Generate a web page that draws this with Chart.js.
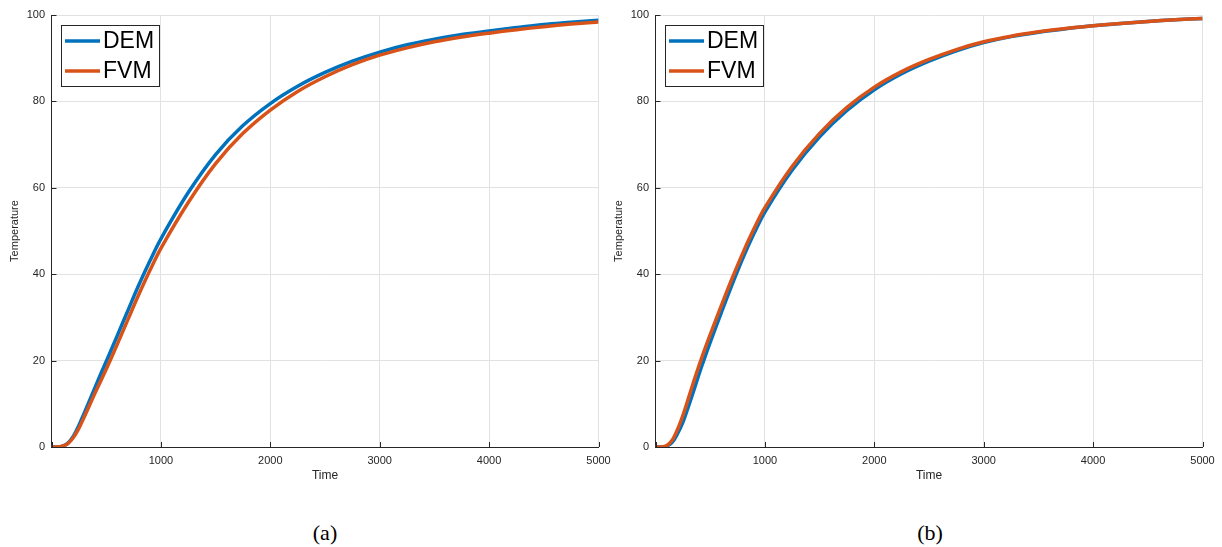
<!DOCTYPE html>
<html>
<head>
<meta charset="utf-8">
<script src="https://cdn.jsdelivr.net/npm/chart.js@4.4.0/dist/chart.umd.min.js"></script>
<style>
  body { margin: 0; background: #fff; width: 1222px; height: 547px; position: relative; overflow: hidden; }
  .panel { position: absolute; top: 0; }
  .cap { position: absolute; top: 520px; font-family: 'Liberation Serif', 'Times New Roman', serif; font-size: 22px; color: #000; transform: translateX(-50%); }
</style>
</head>
<body>
<canvas id="chartA" class="panel" style="left:0px" width="615" height="490"></canvas>
<canvas id="chartB" class="panel" style="left:604px" width="615" height="490"></canvas>
<div class="cap" style="left:325px">(a)</div>
<div class="cap" style="left:930px">(b)</div>
<script>
// time samples (same for every curve)
const times = [0, 50, 100, 150, 200, 250, 300, 350, 400, 450, 500,
  600, 700, 800, 900, 1000,
  1250, 1500, 1750, 2000, 2250, 2500, 2750, 3000, 3250, 3500, 3750, 4000, 4250, 4500, 4750, 5000];

// panel (a)
const demA = [0, 0, 0.2, 0.9, 2.5, 5.0, 7.9, 10.9, 13.9, 16.9, 19.8,
  25.7, 31.7, 37.6, 43.1, 48.2,
  58.9, 67.7, 74.4, 79.5, 83.5, 86.7, 89.3, 91.4, 93.1, 94.4, 95.5, 96.3, 97.1, 97.8, 98.3, 98.8];
const fvmA = [0, 0, 0.2, 0.8, 2.2, 4.3, 7.0, 9.8, 12.6, 15.3, 18.0,
  23.7, 29.6, 35.4, 40.9, 46.0,
  56.6, 65.6, 72.6, 78.0, 82.3, 85.7, 88.5, 90.7, 92.4, 93.8, 94.9, 95.8, 96.6, 97.3, 97.9, 98.4];

// panel (b)
const demB = [0, 0, 0.2, 1.0, 3.0, 5.7, 9.3, 13.1, 17.0, 20.7, 24.2,
  31.0, 37.6, 43.8, 49.4, 54.4,
  64.1, 71.8, 77.9, 82.7, 86.4, 89.3, 91.7, 93.6, 95.0, 96.0, 96.8, 97.5, 98.05, 98.5, 98.9, 99.2];
const fvmB = [0, 0, 0.3, 1.5, 4.0, 7.3, 11.2, 15.2, 19.0, 22.6, 26.0,
  32.6, 39.0, 45.0, 50.5, 55.4,
  65.0, 72.6, 78.6, 83.3, 86.9, 89.7, 92.0, 93.8, 95.1, 96.1, 96.9, 97.5, 98.05, 98.5, 98.9, 99.2];

const xTicks = [0, 1000, 2000, 3000, 4000, 5000];
const yTicks = [0, 20, 40, 60, 80, 100];
const seriesNames = ['DEM', 'FVM'];
const seriesColors = ['#0072BD', '#D95319'];

const axisColor = '#262626';
const gridColor = '#e2e2e2';
const sans = "'Liberation Sans', Arial, Helvetica, sans-serif";

// matlab style inward ticks + boxed legend
const matlabBits = {
  id: 'matlabBits',
  afterDraw(chart) {
    const { ctx, chartArea: ca } = chart;
    const xs = chart.scales.x, ys = chart.scales.y;
    ctx.save();
    ctx.strokeStyle = axisColor;
    ctx.lineWidth = 1;
    ctx.beginPath();
    xTicks.forEach(v => {
      const px = Math.round(xs.getPixelForValue(v)) + 0.5;
      ctx.moveTo(px, ca.bottom);
      ctx.lineTo(px, ca.bottom - 5);
    });
    yTicks.forEach(v => {
      const py = Math.round(ys.getPixelForValue(v)) + 0.5;
      ctx.moveTo(ca.left, py);
      ctx.lineTo(ca.left + 5, py);
    });
    ctx.stroke();

    // legend
    const x0 = Math.round(ca.left + 9.5), y0 = Math.round(ca.top + 10);
    ctx.fillStyle = '#fff';
    ctx.fillRect(x0, y0, 98, 61);
    ctx.strokeStyle = '#262626';
    ctx.strokeRect(x0 + 0.5, y0 + 0.5, 98, 61);
    chart.data.datasets.forEach((ds, i) => {
      const y = y0 + 16 + i * 30;
      ctx.strokeStyle = ds.borderColor;
      ctx.lineWidth = 3.5;
      ctx.beginPath();
      ctx.moveTo(x0 + 4, y);
      ctx.lineTo(x0 + 39, y);
      ctx.stroke();
      ctx.fillStyle = '#000';
      ctx.font = '23px ' + sans;
      ctx.textBaseline = 'middle';
      ctx.fillText(ds.label, x0 + 42, y + 1);
    });
    ctx.restore();
  }
};

function makeChart(id, dem, fvm) {
  const series = [dem, fvm];
  new Chart(document.getElementById(id), {
    type: 'line',
    data: {
      datasets: series.map((vals, i) => ({
        label: seriesNames[i],
        data: times.map((t, j) => ({ x: t, y: vals[j] })),
        borderColor: seriesColors[i],
        backgroundColor: seriesColors[i],
        borderWidth: 3.5,
        pointRadius: 0,
        fill: false,
        tension: 0.35,
        order: 2 - i
      }))
    },
    options: {
      responsive: false,
      animation: false,
      events: [],
      layout: { padding: { left: 0, right: 16.5, top: 15, bottom: 0 } },
      plugins: { legend: { display: false }, tooltip: { enabled: false } },
      scales: {
        x: {
          type: 'linear',
          min: 0,
          max: 5000,
          afterBuildTicks: s => { s.ticks = xTicks.map(v => ({ value: v })); },
          afterFit: s => { s.height = 43; s.paddingLeft = 0; s.paddingRight = 0; },
          grid: { color: gridColor, drawTicks: false },
          border: { color: axisColor, width: 1 },
          ticks: {
            padding: 7,
            color: axisColor,
            font: { family: sans, size: 11 },
            maxRotation: 0,
            callback: v => (v === 0 ? '' : String(v))
          },
          title: {
            display: true,
            text: 'Time',
            color: axisColor,
            font: { family: sans, size: 12 },
            padding: { top: 0, bottom: 7 }
          }
        },
        y: {
          min: 0,
          max: 100,
          afterBuildTicks: s => { s.ticks = yTicks.map(v => ({ value: v })); },
          afterFit: s => { s.width = 51.5; s.paddingTop = 0; s.paddingBottom = 0; },
          grid: { color: gridColor, drawTicks: false },
          border: { color: axisColor, width: 1 },
          ticks: {
            padding: 6.5,
            color: axisColor,
            font: { family: sans, size: 11 },
            callback: v => String(v)
          },
          title: {
            display: true,
            text: 'Temperature',
            color: axisColor,
            font: { family: sans, size: 11 },
            padding: { top: 8, bottom: 0 }
          }
        }
      }
    },
    plugins: [matlabBits]
  });
}

makeChart('chartA', demA, fvmA);
makeChart('chartB', demB, fvmB);
</script>
</body>
</html>
